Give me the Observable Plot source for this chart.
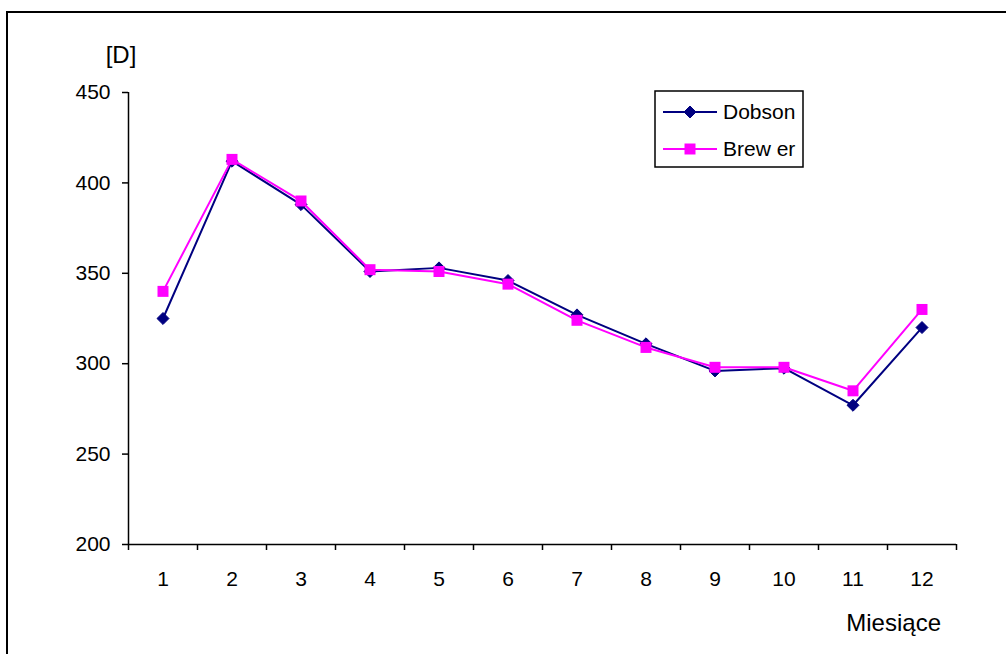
<!DOCTYPE html>
<html>
<head>
<meta charset="utf-8">
<script src="https://cdn.jsdelivr.net/npm/d3@7"></script>
<script src="https://cdn.jsdelivr.net/npm/@observablehq/plot@0.6"></script>
<style>
  html, body { margin: 0; padding: 0; background: #fff; }
  #chart svg { display: block; }
</style>
</head>
<body>
<div id="chart"></div>
<script>
const months = [1, 2, 3, 4, 5, 6, 7, 8, 9, 10, 11, 12];
const dobsonValues = [325, 412, 388, 351, 353, 346, 327, 311, 296, 297.5, 277, 320];
const brewerValues = [340, 413, 390, 352, 351, 344, 324, 309, 298, 298, 285, 330];
const yTicks = [200, 250, 300, 350, 400, 450];
const seriesNames = ["Dobson", "Brew er"];
const seriesColors = ["#000080", "#FF00FF"];
const yLabel = "[D]";
const xLabel = "Miesiące";

const dobson = months.map((m, i) => ({month: m, value: dobsonValues[i]}));
const brewer = months.map((m, i) => ({month: m, value: brewerValues[i]}));
const bandEdges = [0, ...months].map(m => m + 0.5);

const W = 1006, H = 654;
const font = "'Liberation Sans', Arial, sans-serif";

const chart = Plot.plot({
  width: W,
  height: H,
  marginLeft: 128,
  marginRight: 50,
  marginTop: 92,
  marginBottom: 110,
  style: {fontFamily: font, fontSize: "21px", color: "#000", background: "#fff"},
  x: {domain: [0.5, 12.5]},
  y: {domain: [200, 450]},
  marks: [
    Plot.ruleX([0.5], {y1: 200, y2: 450, stroke: "#000", strokeWidth: 1.5}),
    Plot.ruleY([200], {stroke: "#000", strokeWidth: 1.5}),
    Plot.axisY({ticks: yTicks, tickSize: 6, tickPadding: 12, label: null, strokeWidth: 1.5}),
    Plot.axisX({ticks: bandEdges, tickSize: 6, tickFormat: () => "", label: null, strokeWidth: 1.5}),
    Plot.axisX({ticks: months, tickSize: 0, tickPadding: 27, tickFormat: d => String(d), label: null}),
    Plot.line(dobson, {x: "month", y: "value", stroke: seriesColors[0], strokeWidth: 2}),
    Plot.dot(dobson, {x: "month", y: "value", symbol: "diamond2", r: 5.4, fill: seriesColors[0], stroke: seriesColors[0], strokeWidth: 1}),
    Plot.line(brewer, {x: "month", y: "value", stroke: seriesColors[1], strokeWidth: 2}),
    Plot.dot(brewer, {x: "month", y: "value", symbol: "square", r: 6.2, fill: seriesColors[1], stroke: "none"})
  ]
});

const svg = d3.select(chart);
// outer border of the chart area
svg.insert("rect", ":first-child")
  .attr("x", 7).attr("y", 12).attr("width", W + 10).attr("height", H + 10)
  .attr("fill", "none").attr("stroke", "#000").attr("stroke-width", 2);

// axis titles
svg.append("text").attr("x", 121).attr("y", 63).attr("text-anchor", "middle")
  .attr("font-family", font).attr("font-size", 24).attr("fill", "#000").text(yLabel);
svg.append("text").attr("x", 941).attr("y", 631).attr("text-anchor", "end")
  .attr("font-family", font).attr("font-size", 24).attr("fill", "#000").text(xLabel);

// legend
const lg = svg.append("g");
lg.append("rect").attr("x", 655).attr("y", 91).attr("width", 148).attr("height", 76)
  .attr("fill", "#fff").attr("stroke", "#000").attr("stroke-width", 1.5);
const rowsY = [112, 149];
seriesNames.forEach((name, i) => {
  const y = rowsY[i];
  lg.append("line").attr("x1", 663).attr("x2", 717).attr("y1", y).attr("y2", y)
    .attr("stroke", seriesColors[i]).attr("stroke-width", 2);
  if (i === 0) {
    lg.append("path").attr("d", d3.symbol(d3.symbolDiamond2, Math.PI * 5.4 * 5.4)())
      .attr("transform", `translate(690,${y})`).attr("fill", seriesColors[i]).attr("stroke", seriesColors[i]);
  } else {
    lg.append("path").attr("d", d3.symbol(d3.symbolSquare, Math.PI * 6.2 * 6.2)())
      .attr("transform", `translate(690,${y})`).attr("fill", seriesColors[i]);
  }
  lg.append("text").attr("x", 723).attr("y", y).attr("dy", "0.35em").attr("text-anchor", "start")
    .attr("font-family", font).attr("font-size", 21).attr("fill", "#000").text(name);
});

document.getElementById("chart").appendChild(chart);
</script>
</body>
</html>
